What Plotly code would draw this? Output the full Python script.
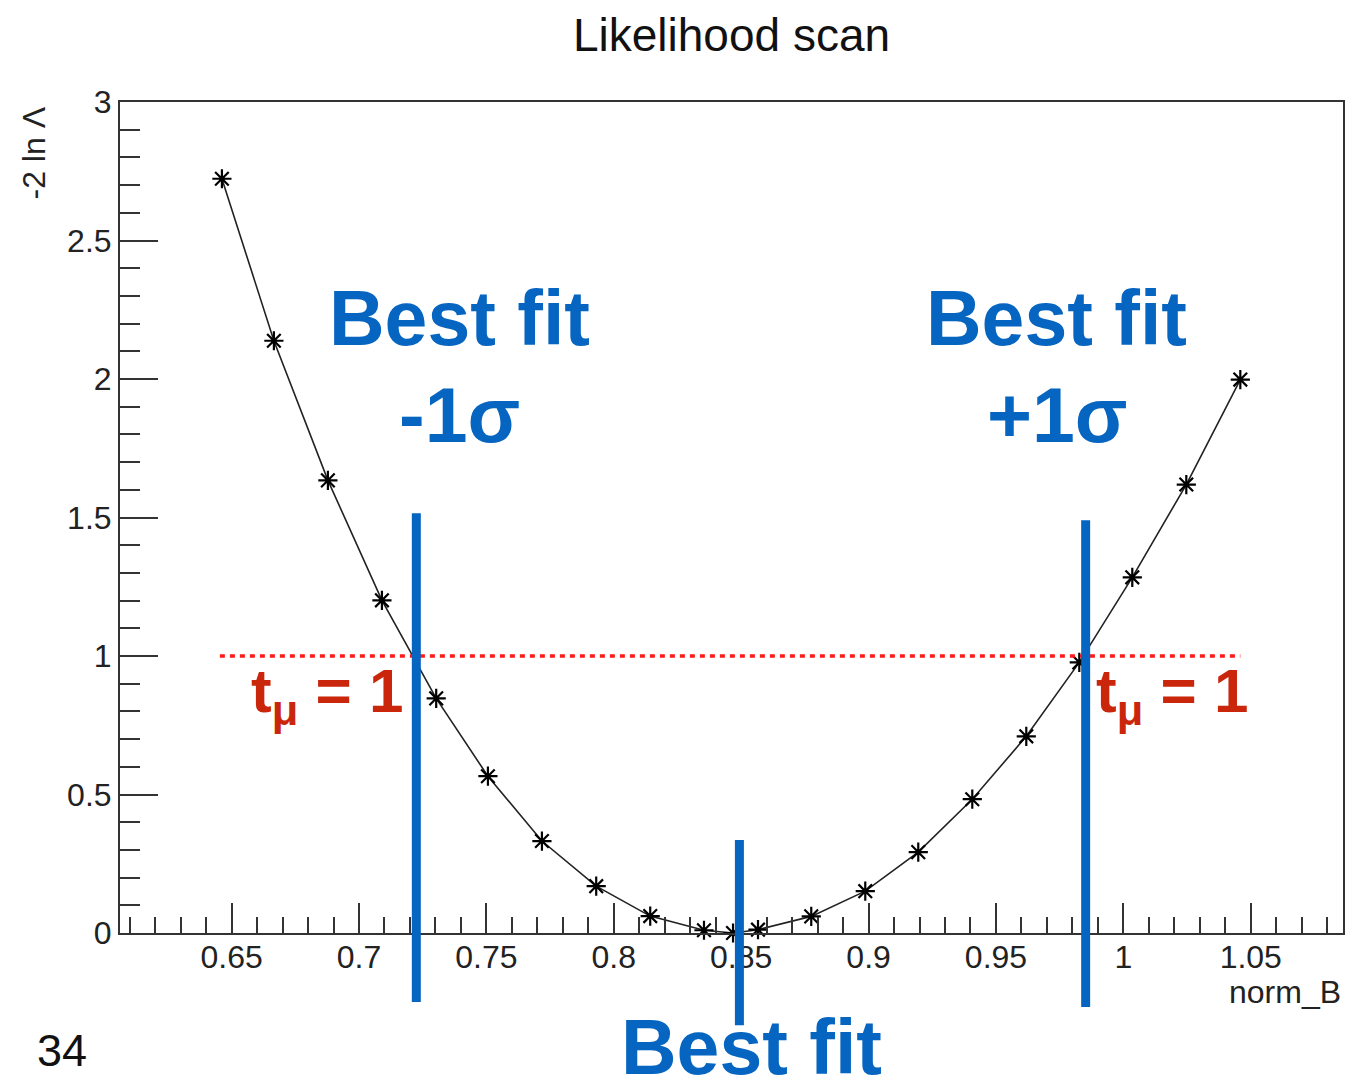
import plotly.graph_objects as go

# ---- data ----
norm_B = [0.6462, 0.6666, 0.6878, 0.7090, 0.7303, 0.7506, 0.7718, 0.7931, 0.8143,
          0.8354, 0.8468, 0.8566, 0.8775, 0.8987, 0.9195, 0.9407, 0.9619, 0.9827,
          1.0035, 1.0247, 1.0459]
minus2lnL = [2.723, 2.138, 1.634, 1.201, 0.847, 0.566, 0.332, 0.169, 0.061,
             0.010, 0.000, 0.012, 0.060, 0.151, 0.292, 0.483, 0.710, 0.977,
             1.284, 1.619, 1.998]

threshold_x = [0.6454, 1.0459]
threshold_y = [1.0, 1.0]

# vertical marker lines: x position, top (data y), bottom (paper y, below axis)
vline_x = [0.7225, 0.9852, 0.8493]
vline_top = [1.515, 1.49, 0.336]
vline_bottom = [-0.083, -0.089, -0.111]

x_range = [0.6062, 1.0862]
y_range = [0.0, 3.0]

BLUE = "#0565c0"
RED = "#c9260c"
FONT = "Liberation Sans"

fig = go.Figure()

fig.add_trace(go.Scatter(
    x=norm_B, y=minus2lnL, mode="lines+markers",
    line=dict(color="#222222", width=1.6),
    marker=dict(symbol="asterisk-open", size=16, color="black",
                line=dict(color="black", width=2.2)),
    showlegend=False, cliponaxis=False))

fig.add_trace(go.Scatter(
    x=threshold_x, y=threshold_y, mode="lines",
    line=dict(color="#ff1a1a", width=3.5, dash="5px,5px"),
    showlegend=False))

shapes = []
for xv, yt, yb in zip(vline_x, vline_top, vline_bottom):
    shapes.append(dict(type="line", xref="x", yref="paper",
                       x0=xv, x1=xv, y0=yb, y1=yt / (y_range[1] - y_range[0]),
                       line=dict(color=BLUE, width=9), layer="above"))

big = dict(family=FONT, size=77, color=BLUE)
red = dict(family=FONT, size=62, color=RED)
annotations = [
    dict(text="<b>Best fit</b>", x=0.7396, y=2.22, xref="x", yref="y", showarrow=False, font=big),
    dict(text="<b>-1σ</b>", x=0.7396, y=1.87, xref="x", yref="y", showarrow=False, font=big),
    dict(text="<b>Best fit</b>", x=0.9739, y=2.22, xref="x", yref="y", showarrow=False, font=big),
    dict(text="<b>+1σ</b>", x=0.9739, y=1.87, xref="x", yref="y", showarrow=False, font=big),
    dict(text="<b>Best fit</b>", x=0.8542, y=-0.137, xref="x", yref="paper",
         xanchor="center", yanchor="middle", showarrow=False, font=big),
    dict(text="<b>t<sub>μ</sub> = 1</b>", x=0.6568, y=0.86, xref="x", yref="y",
         xanchor="left", yanchor="middle", showarrow=False, font=red),
    dict(text="<b>t<sub>μ</sub> = 1</b>", x=0.9885, y=0.86, xref="x", yref="y",
         xanchor="left", yanchor="middle", showarrow=False, font=red),
    dict(text="norm_B", x=1.0, y=-0.071, xref="paper", yref="paper", xanchor="right",
         yanchor="middle", showarrow=False, font=dict(family=FONT, size=32, color="#222222")),
    dict(text="-2 ln Λ", x=-0.0703, y=0.9964, xref="paper", yref="paper", textangle=-90,
         xanchor="center", yanchor="top", showarrow=False,
         font=dict(family=FONT, size=32, color="#222222")),
    dict(text="34", x=-0.0474, y=-0.1408, xref="paper", yref="paper", showarrow=False,
         xanchor="center", yanchor="middle",
         font=dict(family=FONT, size=45, color="#111111")),
]

axis_common = dict(showgrid=False, zeroline=False, showline=True, linecolor="#333333",
                   linewidth=2, mirror=True, ticks="inside", tickcolor="#333333",
                   tickfont=dict(family=FONT, size=32, color="#222222"))

fig.update_layout(
    width=1367, height=1082,
    margin=dict(l=120, r=24, t=102, b=149),
    paper_bgcolor="white", plot_bgcolor="white",
    title=dict(text="Likelihood scan", x=0.5, xref="paper", y=1 - 35 / 1082,
               yref="container", xanchor="center", yanchor="middle",
               font=dict(family=FONT, size=46, color="#111111")),
    shapes=shapes, annotations=annotations,
    xaxis=dict(range=x_range, dtick=0.05, tick0=0, ticklen=30, tickwidth=2,
               ticklabelstandoff=-5,
               minor=dict(dtick=0.01, ticklen=16, ticks="inside", tickwidth=2, tickcolor="#333333"),
               **axis_common),
    yaxis=dict(range=y_range, dtick=0.5, tick0=0, ticklen=38, tickwidth=2,
               minor=dict(dtick=0.1, ticklen=20, ticks="inside", tickwidth=2, tickcolor="#333333"),
               **axis_common),
)

fig.write_html("out.html")
